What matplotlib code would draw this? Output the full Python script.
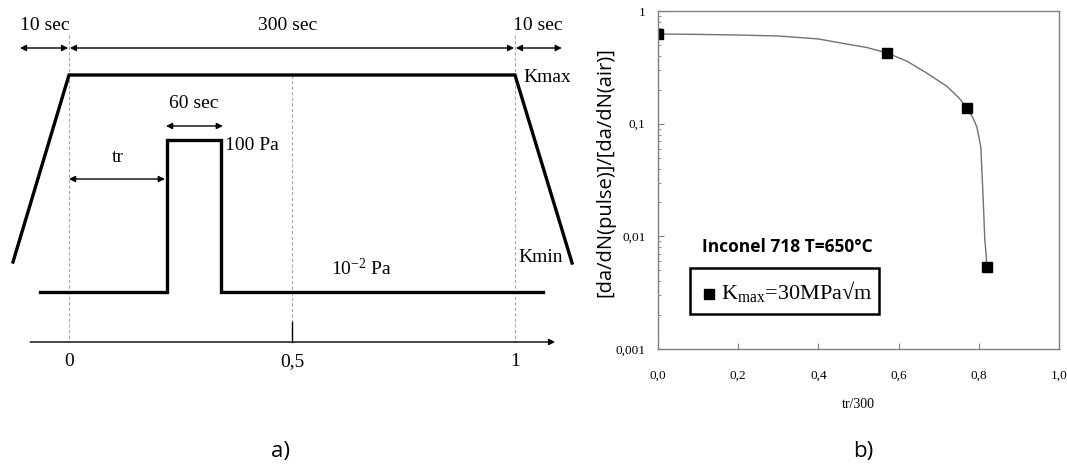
import matplotlib
matplotlib.use('Agg')
import matplotlib.pyplot as plt
from matplotlib.patches import Rectangle

plt.rcParams['mathtext.default'] = 'regular'

W, H = 1067, 468
SERIF = 'Liberation Serif'
SANS = 'Open Sans'

# ---- panel a) : loading / pressure schematic (x in tr/300 units) ----
trap_x = [-0.1256, 0.0, 1.0, 1.128]
trap_y = [262, 75, 75, 263]          # K cycle (Kmin -> Kmax -> Kmin)

press_x = [-0.065, 0.2197, 0.2197, 0.341, 0.341, 1.063]
press_y = [292, 292, 140, 140, 292, 292]   # 10^-2 Pa -> 100 Pa pulse

axis_ticks = [0.0, 0.5, 1.0]
axis_labels = ['0', '0,5', '1']

# ---- panel b) : measured ratio ----
pts_x = [0.0, 0.571, 0.771, 0.82]
pts_y = [0.625, 0.424, 0.138, 0.00535]

# fitted curve
curve_x = [0.0, 0.1, 0.2, 0.3, 0.4, 0.461, 0.52, 0.571, 0.62, 0.671, 0.72,
           0.75, 0.771, 0.785, 0.795, 0.805, 0.811, 0.815, 0.818, 0.82]
curve_y = [0.625, 0.62, 0.612, 0.60, 0.565, 0.516, 0.475, 0.424, 0.36,
           0.280, 0.215, 0.17, 0.138, 0.113, 0.094, 0.0625, 0.021, 0.00927,
           0.0071, 0.00535]

xticks_b = [0.0, 0.2, 0.4, 0.6, 0.8, 1.0]
xlabels_b = ['0,0', '0,2', '0,4', '0,6', '0,8', '1,0']
yticks_b = [0.001, 0.01, 0.1, 1]
ylabels_b = ['0,001', '0,01', '0,1', '1']

fig = plt.figure(figsize=(W / 100, H / 100), dpi=100)

# left schematic axes, mapped so that 0 -> px 69 and 1 -> px 515
ax = fig.add_axes([0, 0, 600 / W, 1])
ax.set_xlim(-69 / 446, (600 - 69) / 446)
ax.set_ylim(H, 0)
ax.axis('off')

for xv, top in zip(axis_ticks, [35, 75, 35]):
    ax.plot([xv, xv], [top, 342], color='#a8a8a8', lw=0.8,
            linestyle=(0, (3, 2)))
ax.plot([0.5, 0.5], [322, 342], color='black', lw=1)

ax.plot(trap_x, trap_y, color='black', lw=2.4, solid_joinstyle='miter')
ax.plot(press_x, press_y, color='black', lw=2.4, solid_joinstyle='miter')


def dim_arrow(x0, x1, y, style='<|-|>'):
    ax.annotate('', xy=(x1, y), xytext=(x0, y),
                arrowprops=dict(arrowstyle=style, color='black', lw=1.0,
                                mutation_scale=9, shrinkA=0, shrinkB=0))


dim_arrow(-0.110, -0.002, 48)
dim_arrow(0.002, 0.998, 48)
dim_arrow(1.002, 1.105, 48)
dim_arrow(0.0, 0.215, 179)
dim_arrow(0.2175, 0.345, 126)
dim_arrow(-0.087, 1.09, 342, style='-|>')

fs = 14
ax.text(-0.054, 25, '10 sec', ha='center', va='center', fontsize=fs, family=SERIF)
ax.text(0.49, 25, '300 sec', ha='center', va='center', fontsize=fs, family=SERIF)
ax.text(1.052, 25, '10 sec', ha='center', va='center', fontsize=fs, family=SERIF)
ax.text(1.018, 77, 'Kmax', ha='left', va='center', fontsize=fs, family=SERIF)
ax.text(1.007, 257, 'Kmin', ha='left', va='center', fontsize=fs, family=SERIF)
ax.text(0.28, 104, '60 sec', ha='center', va='center', fontsize=fs, family=SERIF)
ax.text(0.35, 145, '100 Pa', ha='left', va='center', fontsize=fs, family=SERIF)
ax.text(0.11, 157, 'tr', ha='center', va='center', fontsize=fs, family=SERIF)
ax.text(0.587, 269, '10$^{-2}$ Pa', ha='left', va='center', fontsize=fs, family=SERIF)
for xv, lab in zip(axis_ticks, axis_labels):
    ax.text(xv, 362, lab, ha='center', va='center', fontsize=fs, family=SERIF)

# right plot
ax2 = fig.add_axes([658 / W, 1 - 349 / H, 401 / W, 338 / H])
ax2.set_yscale('log')
ax2.set_xlim(0, 1)
ax2.set_ylim(0.001, 1)
ax2.plot(curve_x, curve_y, color='#707070', lw=1)
ax2.plot(pts_x, pts_y, 's', color='black', markersize=7.5, linestyle='none')

for s in ax2.spines.values():
    s.set_color('#808080')
    s.set_linewidth(1)
ax2.set_xticks(xticks_b)
ax2.set_xticklabels(xlabels_b, fontfamily=SERIF, fontsize=9.5)
ax2.set_yticks(yticks_b)
ax2.set_yticklabels(ylabels_b, fontfamily=SERIF, fontsize=9.5)
ax2.tick_params(axis='x', direction='in', length=4, color='#808080', pad=15)
ax2.tick_params(axis='y', which='major', direction='in', length=4,
                color='#808080', pad=9)
ax2.tick_params(axis='y', which='minor', direction='in', length=2.5,
                color='#808080', labelleft=False)

fig.text(858 / W, 1 - 405 / H, 'tr/300', ha='center', va='center',
         fontsize=10, family=SERIF)
fig.text(605 / W, 1 - 172 / H, '[da/dN(pulse)]/[da/dN(air)]', rotation=90,
         ha='center', va='center', fontsize=14.5, family=SANS)
fig.text(787 / W, 1 - 247 / H, 'Inconel 718 T=650°C', ha='center',
         va='center', fontsize=12.5, family=SANS, fontweight='bold')

ax2.add_patch(Rectangle((690 / W, 1 - 314 / H), 189 / W, 46 / H,
                        transform=fig.transFigure, fill=False, lw=1.8,
                        edgecolor='black', clip_on=False))
ax2.plot([709 / W], [1 - 294 / H], 's', color='black', markersize=7.5,
         transform=fig.transFigure, clip_on=False)
fig.text(721 / W, 1 - 292 / H, 'K$_{max}$=30MPa√m', ha='left',
         va='center', fontsize=16, family=SERIF)

fig.text(280 / W, 1 - 452 / H, 'a)', ha='center', va='center',
         fontsize=16, family=SANS)
fig.text(863 / W, 1 - 452 / H, 'b)', ha='center', va='center',
         fontsize=16, family=SANS)

fig.savefig('out.png', dpi=100)
